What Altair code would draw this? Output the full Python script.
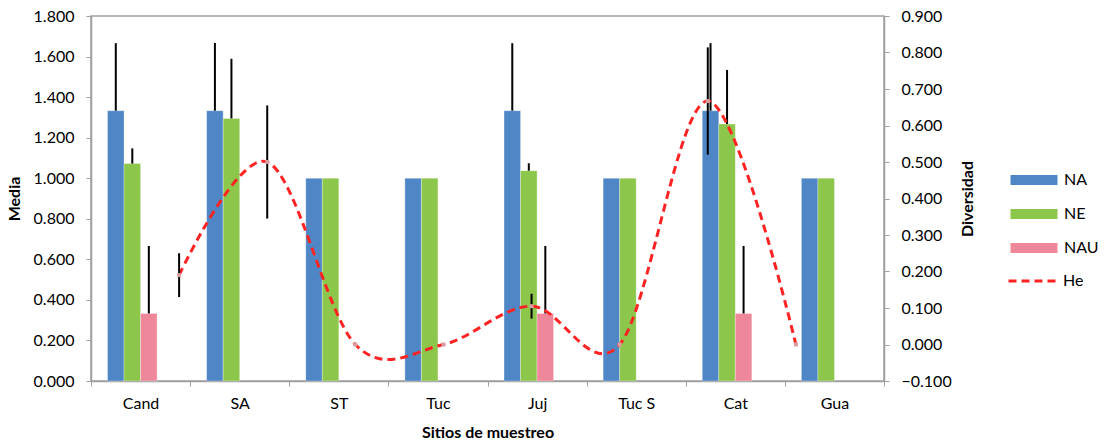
import altair as alt
import pandas as pd

sites = ["Cand", "SA", "ST", "Tuc", "Juj", "Tuc S", "Cat", "Gua"]
series = ["NA", "NE", "NAU"]

na = [1.333, 1.333, 1.0, 1.0, 1.333, 1.0, 1.333, 1.0]
na_err = [0.333, 0.334, 0, 0, 0.333, 0, 0.333, 0]
ne = [1.072, 1.295, 1.0, 1.0, 1.037, 1.0, 1.267, 1.0]
ne_err = [0.075, 0.294, 0, 0, 0.037, 0, 0.267, 0]
nau = [0.333, 0, 0, 0, 0.333, 0, 0.333, 0]
nau_err = [0.333, 0, 0, 0, 0.333, 0, 0.333, 0]

he = [0.190, 0.500, 0.0, 0.0, 0.105, 0.0, 0.667, 0.0]
he_err = [0.060, 0.155, 0, 0, 0.034, 0, 0.147, 0]

left_ticks = [0.0, 0.2, 0.4, 0.6, 0.8, 1.0, 1.2, 1.4, 1.6, 1.8]
right_ticks = [-0.1, 0.0, 0.1, 0.2, 0.3, 0.4, 0.5, 0.6, 0.7, 0.8, 0.9]

colors = ["#4f86c6", "#8cc64a", "#ef879b"]
RED = "#ff2323"
GREY = "#a0a0a0"
FONT = "Lato"

rows = []
for name, vals, errs in (("NA", na, na_err), ("NE", ne, ne_err), ("NAU", nau, nau_err)):
    for s, v, e in zip(sites, vals, errs):
        rows.append({"site": s, "serie": name, "value": v, "err": e, "upper": v + e})
bars_df = pd.DataFrame(rows)

he_df = pd.DataFrame({"site": sites, "he": he, "err": he_err, "serie": "He"})
he_df["lo"] = he_df["he"] - he_df["err"]
he_df["hi"] = he_df["he"] + he_df["err"]

x_band = alt.X(
    "site:N",
    sort=sites,
    scale=alt.Scale(domain=sites, paddingInner=0, paddingOuter=0),
    axis=alt.Axis(
        title="Sitios de muestreo", tickBand="extent", labelAngle=0,
        labelPadding=9, titlePadding=13,
    ),
)
x_off = alt.XOffset(
    "serie:N",
    scale=alt.Scale(domain=["NA", "NE", "NAU", "-"], paddingInner=0, paddingOuter=1),
)
y_left = alt.Y(
    "value:Q",
    scale=alt.Scale(domain=[0, 1.8]),
    axis=alt.Axis(values=left_ticks, tickCount=len(left_ticks), format=".3f",
                  title="Media", grid=False, labelPadding=12, titlePadding=11,
                  labelOverlap=False),
)

bars = alt.Chart(bars_df).transform_filter("datum.value > 0").mark_bar(
    stroke="white", strokeWidth=0.6, strokeOpacity=0.5
).encode(
    x=x_band,
    xOffset=x_off,
    y=y_left,
    color=alt.Color(
        "serie:N",
        scale=alt.Scale(domain=series, range=colors),
        legend=alt.Legend(
            title=None, orient="none", legendX=931, legendY=152,
            symbolType="M-2,-0.43H2V0.43H-2Z", symbolSize=552,
            symbolStrokeWidth=0, symbolOpacity=1, rowPadding=14, labelOffset=18,
            labelFontSize=16, labelFont=FONT, labelColor="black",
        ),
    ),
)

bar_err = alt.Chart(bars_df).transform_filter("datum.err > 0").mark_rule(
    color="black", strokeWidth=2
).encode(
    x=x_band,
    xOffset=x_off,
    y="value:Q",
    y2="upper:Q",
)

left_layer = alt.layer(bars, bar_err)

x_point = alt.X(
    "site:N",
    sort=sites,
    scale=alt.Scale(type="point", domain=sites, padding=1),
    axis=None,
)
y_right = alt.Y(
    "he:Q",
    scale=alt.Scale(domain=[-0.1, 0.9]),
    axis=alt.Axis(orient="right", values=right_ticks, tickCount=len(right_ticks),
                  format=".3f", title="Diversidad",
                  grid=False, labelPadding=12, titlePadding=24, titleAngle=270,
                  titleBaseline="bottom", labelOverlap=False),
)

line = alt.Chart(he_df).mark_line(
    interpolate="cardinal", color=RED, strokeWidth=3
).encode(
    x=x_point,
    y=y_right,
    strokeDash=alt.StrokeDash(
        "serie:N",
        scale=alt.Scale(domain=["He"], range=[[8, 5]]),
        legend=alt.Legend(
            title=None, orient="none", legendX=916, legendY=240,
            symbolType="stroke", symbolSize=2209, symbolStrokeWidth=3,
            symbolStrokeColor=RED, labelOffset=6,
            labelFontSize=16, labelFont=FONT, labelColor="black",
        ),
    ),
)

marks = alt.Chart(he_df).mark_square(size=16, color="#d8a0a0", opacity=1).encode(
    x=x_point, y="he:Q"
)

he_rules = alt.Chart(he_df).transform_filter("datum.err > 0").mark_rule(
    color="black", strokeWidth=2
).encode(
    x=x_point, y="lo:Q", y2="hi:Q"
)

right_layer = alt.layer(line, he_rules, marks)

chart = alt.layer(left_layer, right_layer).resolve_scale(
    x="independent", y="independent", color="independent", strokeDash="independent"
).properties(
    width=793,
    height=365,
    padding={"left": 91, "top": 16, "right": 222, "bottom": 62},
    autosize=alt.AutoSizeParams(type="none"),
    background="white",
).configure_axis(
    domainColor=GREY,
    tickColor=GREY,
    tickSize=5,
    domainWidth=1.5,
    labelFont=FONT,
    labelFontSize=16,
    labelColor="black",
    titleFont=FONT,
    titleFontSize=16,
    titleFontWeight="bold",
    titleColor="black",
).configure_view(stroke=GREY, strokeWidth=1.5)

chart.save("out.html", embed_options={"renderer": "svg", "actions": False})
